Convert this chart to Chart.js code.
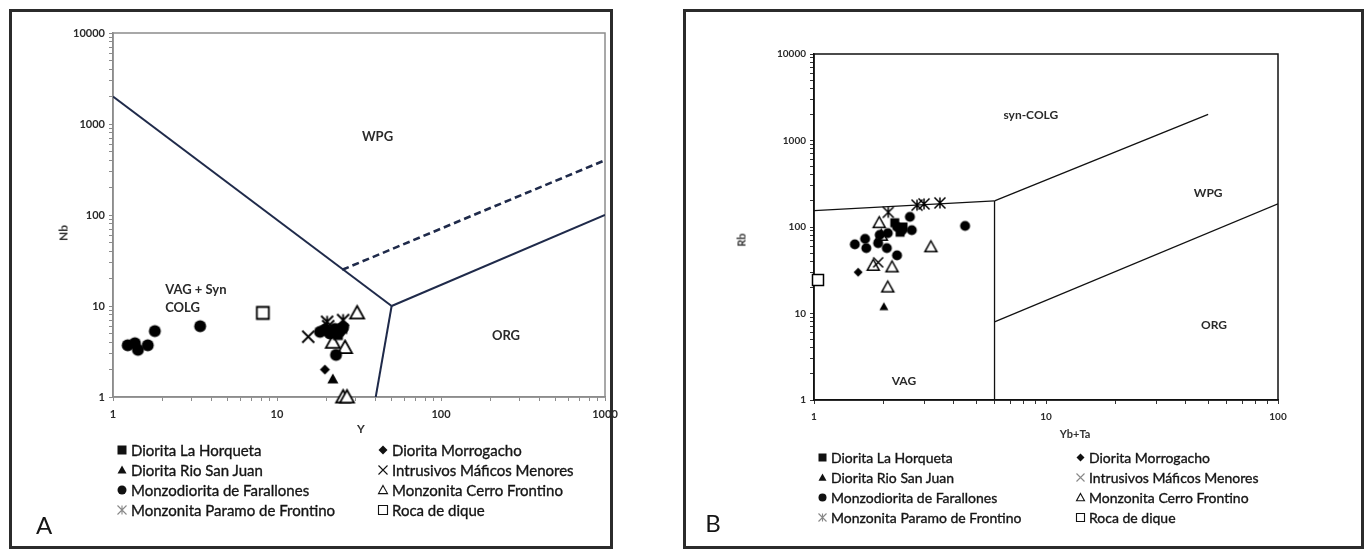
<!DOCTYPE html>
<html>
<head>
<meta charset="utf-8">
<script src="https://cdn.jsdelivr.net/npm/chart.js@4.4.0/dist/chart.umd.min.js"></script>
<style>
  html, body { margin: 0; padding: 0; background: #fff; }
  body { width: 1366px; height: 552px; position: relative; overflow: hidden; font-family: Lato, 'Liberation Sans', sans-serif; color: #151515; }
  .frame { position: absolute; box-sizing: border-box; border: 3px solid #2b2b2b; }
  canvas.plot { position: absolute; top: 0; }
  .legend { position: absolute; display: grid; grid-auto-rows: 20px; -webkit-text-stroke: 0.35px #151515; }
  .legend .item { display: flex; align-items: center; white-space: nowrap; }
  .legend canvas { margin-right: 2px; }
  .title { position: absolute; font-weight: bold; font-size: 12px; color: #333; transform: translate(-50%, -50%); white-space: nowrap; }
  .title.rot { transform: translate(-50%, -50%) rotate(-90deg); }
  .letter { position: absolute; font-size: 24px; transform: translate(-50%, -50%); }
</style>
</head>
<body>
<div class="frame" style="left:9px;top:9px;width:604px;height:540px"></div>
<div class="frame" style="left:683px;top:9px;width:681px;height:540px"></div>

<canvas id="chartA" class="plot" width="683" height="552" style="left:0"></canvas>
<canvas id="chartB" class="plot" width="683" height="552" style="left:683px"></canvas>

<div class="title rot" style="left:63px;top:233px">Nb</div>
<div class="title" style="left:361px;top:428px">Y</div>
<div class="title rot" style="left:741px;top:240px;font-size:11px">Rb</div>
<div class="title" style="left:1075px;top:433px;font-size:11px">Yb+Ta</div>

<div id="legendA" class="legend" style="left:115px;top:440px;grid-template-columns:261px auto;font-size:15px"></div>
<div id="legendB" class="legend" style="left:816px;top:447px;grid-template-columns:258px auto;font-size:14px"></div>

<div class="letter" style="left:44px;top:524px">A</div>
<div class="letter" style="left:713px;top:522px">B</div>

<script>
// series, in legend order (row by row, two columns)
const seriesNames = ['Diorita La Horqueta', 'Diorita Morrogacho', 'Diorita Rio San Juan', 'Intrusivos Máficos Menores',
                     'Monzodiorita de Farallones', 'Monzonita Cerro Frontino', 'Monzonita Paramo de Frontino', 'Roca de dique'];
const seriesMarkers = ['square', 'diamond', 'triangle', 'cross', 'circle', 'openTriangle', 'asterisk', 'openSquare'];

// panel A : Y vs Nb (ppm)
const yA = [
    [21.5, 23.5, 25],
    [19.6],
    [21.9],
    [15.5, 20.5],
    [1.23, 1.36, 1.42, 1.63, 1.8, 3.4, 18.3, 19.6, 21, 22.5, 24, 25.3, 22.9],
    [30.8, 21.9, 26, 25.3, 26.7],
    [20.2, 25.3],
    [8.2]
];
const nbA = [
    [5.2, 4.8, 5.6],
    [2.0],
    [1.58],
    [4.6, 6.0],
    [3.7, 3.9, 3.3, 3.7, 5.3, 6.0, 5.2, 5.5, 5.0, 5.6, 5.2, 5.8, 2.9],
    [8.4, 4.0, 3.5, 1.0, 1.0],
    [6.7, 7.0],
    [8.4]
];

// panel B : Yb+Ta vs Rb (ppm)
const ybtaB = [
    [2.23, 2.35, 2.42],
    [1.55],
    [2.0],
    [1.89],
    [4.48, 1.5, 1.66, 1.68, 1.89, 2.06, 1.92, 2.08, 2.28, 2.59, 2.64, 2.28, 2.4],
    [2.08, 2.17, 1.8, 1.91, 3.19, 1.95],
    [2.09, 2.78, 2.98, 3.49],
    [1.04]
];
const rbB = [
    [112, 87, 100],
    [30],
    [12],
    [39],
    [103, 63, 73, 57, 65, 57, 81, 85, 100, 131, 92, 47, 92],
    [20.2, 34.5, 36, 112, 59, 80],
    [148, 179, 185, 190],
    [24.4]
];

// field boundaries
const linesAx = [[1, 50], [50, 1000], [50, 40], [25, 1000]];
const linesAy = [[2000, 10], [10, 100], [10, 1], [25, 400]];
const linesAdashed = [false, false, false, true];
const linesBx = [[1, 6], [6, 6], [6, 50], [6, 100]];
const linesBy = [[155, 200], [200, 1], [200, 2000], [8, 185]];

// field names
const fieldsA = [
    { text: 'WPG', x: 41, y: 720, align: 'center' },
    { text: 'VAG + Syn', x: 2.08, y: 15, align: 'left' },
    { text: 'COLG', x: 2.08, y: 9.5, align: 'left' },
    { text: 'ORG', x: 249, y: 4.7, align: 'center' }
];
const fieldsB = [
    { text: 'syn-COLG', x: 8.6, y: 1970, align: 'center' },
    { text: 'WPG', x: 50, y: 247, align: 'center' },
    { text: 'ORG', x: 53, y: 7.4, align: 'center' },
    { text: 'VAG', x: 2.44, y: 1.66, align: 'center' }
];

function drawMarker(ctx, kind, cx, cy, r, color, lw) {
    ctx.save();
    ctx.strokeStyle = color;
    ctx.fillStyle = color;
    ctx.lineWidth = lw;
    ctx.beginPath();
    if (kind === 'square') {
        ctx.rect(cx - r, cy - r, 2 * r, 2 * r);
        ctx.fill();
    } else if (kind === 'diamond') {
        ctx.moveTo(cx, cy - r); ctx.lineTo(cx + r, cy); ctx.lineTo(cx, cy + r); ctx.lineTo(cx - r, cy);
        ctx.closePath();
        ctx.fill();
    } else if (kind === 'triangle' || kind === 'openTriangle') {
        ctx.moveTo(cx, cy - r); ctx.lineTo(cx + r, cy + r * 0.8); ctx.lineTo(cx - r, cy + r * 0.8);
        ctx.closePath();
        if (kind === 'triangle') {
            ctx.fill();
        } else {
            ctx.fillStyle = '#fff';
            ctx.fill();
            ctx.stroke();
        }
    } else if (kind === 'cross') {
        ctx.moveTo(cx - r, cy - r); ctx.lineTo(cx + r, cy + r);
        ctx.moveTo(cx + r, cy - r); ctx.lineTo(cx - r, cy + r);
        ctx.stroke();
    } else if (kind === 'circle') {
        ctx.arc(cx, cy, r, 0, Math.PI * 2);
        ctx.fill();
    } else if (kind === 'asterisk') {
        ctx.moveTo(cx - r, cy - r); ctx.lineTo(cx + r, cy + r);
        ctx.moveTo(cx + r, cy - r); ctx.lineTo(cx - r, cy + r);
        ctx.moveTo(cx, cy - r); ctx.lineTo(cx, cy + r);
        ctx.stroke();
    } else if (kind === 'openSquare') {
        ctx.rect(cx - r, cy - r, 2 * r, 2 * r);
        ctx.fillStyle = '#fff';
        ctx.fill();
        ctx.stroke();
    }
    ctx.restore();
}

function markerCanvas(kind, r, color, lw) {
    const c = document.createElement('canvas');
    const s = Math.ceil(2 * r + lw + 3);
    c.width = s;
    c.height = s;
    drawMarker(c.getContext('2d'), kind, s / 2, s / 2, r, color, lw);
    return c;
}

function logTicks(scale) {
    const ticks = [];
    for (let e = Math.round(Math.log10(scale.min)); e < Math.round(Math.log10(scale.max)); e++) {
        for (let m = 1; m < 10; m++) ticks.push({ value: m * Math.pow(10, e) });
    }
    ticks.push({ value: scale.max });
    scale.ticks = ticks;
}

function decadeLabel(v) {
    const l = Math.log10(v);
    return Math.abs(l - Math.round(l)) < 1e-6 ? String(Math.round(v)) : '';
}

const fieldLabels = {
    id: 'fieldLabels',
    afterDatasetsDraw(chart, args, opts) {
        const ctx = chart.ctx;
        ctx.save();
        ctx.font = 'bold ' + opts.size + 'px Lato';
        ctx.fillStyle = '#2a2a2a';
        ctx.textBaseline = 'middle';
        for (const f of opts.items) {
            ctx.textAlign = f.align;
            ctx.fillText(f.text, chart.scales.x.getPixelForValue(f.x), chart.scales.y.getPixelForValue(f.y));
        }
        ctx.restore();
    }
};

const plotFrame = {
    id: 'plotFrame',
    beforeDatasetsDraw(chart, args, opts) {
        const a = chart.chartArea;
        const ctx = chart.ctx;
        ctx.save();
        ctx.strokeStyle = opts.color;
        ctx.lineWidth = opts.width;
        ctx.strokeRect(a.left, a.top, a.right - a.left, a.bottom - a.top);
        ctx.restore();
    }
};

function buildChart(id, xs, ys, lx, ly, dashed, cfg) {
    const datasets = [];
    seriesNames.forEach((name, i) => {
        const kind = seriesMarkers[i];
        datasets.push({
            label: name,
            data: xs[i].map((x, j) => ({ x: x, y: ys[i][j] })),
            pointStyle: markerCanvas(kind, cfg.sizes[kind], '#000', cfg.markerLine),
            pointRadius: cfg.sizes[kind],
            showLine: false,
            clip: false,
            order: 1
        });
    });
    lx.forEach((x, i) => {
        datasets.push({
            label: 'boundary' + i,
            data: x.map((v, j) => ({ x: v, y: ly[i][j] })),
            showLine: true,
            pointRadius: 0,
            borderColor: cfg.lineColor,
            borderWidth: dashed[i] ? cfg.lineWidth + 0.6 : cfg.lineWidth,
            borderDash: dashed[i] ? [7, 4] : [],
            order: 5
        });
    });

    const axis = (min, max, fit, pad) => ({
        type: 'logarithmic',
        min: min,
        max: max,
        afterBuildTicks: logTicks,
        afterFit: fit,
        grid: { drawOnChartArea: false, drawTicks: true, tickLength: 4, color: cfg.tickColor },
        border: { color: cfg.frameColor, width: cfg.frameWidth },
        ticks: {
            autoSkip: false,
            maxRotation: 0,
            padding: pad,
            color: '#2a2a2a',
            font: { size: cfg.tickFont, weight: 'bold' },
            callback: decadeLabel
        }
    });

    return new Chart(document.getElementById(id), {
        type: 'scatter',
        data: { datasets: datasets },
        options: {
            responsive: false,
            animation: false,
            devicePixelRatio: 1,
            layout: { padding: cfg.padding },
            plugins: {
                legend: { display: false },
                tooltip: { enabled: false },
                fieldLabels: { items: cfg.fields, size: cfg.fieldFont },
                plotFrame: { color: cfg.frameColor, width: cfg.frameWidth }
            },
            scales: {
                x: axis(cfg.xMin, cfg.xMax, s => { s.height = 22; }, 7),
                y: axis(1, 10000, s => { s.width = 40; }, 4)
            }
        },
        plugins: [fieldLabels, plotFrame]
    });
}

Chart.defaults.font.family = 'Lato, "Liberation Sans", sans-serif';

buildChart('chartA', yA, nbA, linesAx, linesAy, linesAdashed, {
    xMin: 1, xMax: 1000,
    padding: { left: 73, top: 33, right: 78, bottom: 133 },
    sizes: { square: 5, diamond: 5, triangle: 5.5, cross: 6, circle: 6, openTriangle: 7, asterisk: 6, openSquare: 6 },
    markerLine: 1.8,
    lineColor: '#1f2a4a',
    lineWidth: 2,
    frameColor: '#8c8c8c',
    frameWidth: 1.5,
    tickColor: '#8c8c8c',
    tickFont: 11,
    fieldFont: 13,
    fields: fieldsA
});

buildChart('chartB', ybtaB, rbB, linesBx, linesBy, [false, false, false, false], {
    xMin: 1, xMax: 100,
    padding: { left: 91, top: 54, right: 88, bottom: 130 },
    sizes: { square: 4.5, diamond: 4.5, triangle: 4.5, cross: 5, circle: 5, openTriangle: 6, asterisk: 5.5, openSquare: 5.5 },
    markerLine: 1.5,
    lineColor: '#111',
    lineWidth: 1.3,
    frameColor: '#111',
    frameWidth: 1.5,
    tickColor: '#333',
    tickFont: 10,
    fieldFont: 12,
    fields: fieldsB
});

function buildLegend(id, r, grey) {
    const box = document.getElementById(id);
    seriesNames.forEach((name, i) => {
        const item = document.createElement('div');
        item.className = 'item';
        const legendColor = (seriesMarkers[i] === 'asterisk' || (grey && seriesMarkers[i] === 'cross')) ? '#888' : '#111';
        item.appendChild(markerCanvas(seriesMarkers[i], r, legendColor, 1.1));
        const t = document.createElement('span');
        t.textContent = name;
        item.appendChild(t);
        box.appendChild(item);
    });
}
buildLegend('legendA', 4.5, false);
buildLegend('legendB', 4, true);
</script>
</body>
</html>
